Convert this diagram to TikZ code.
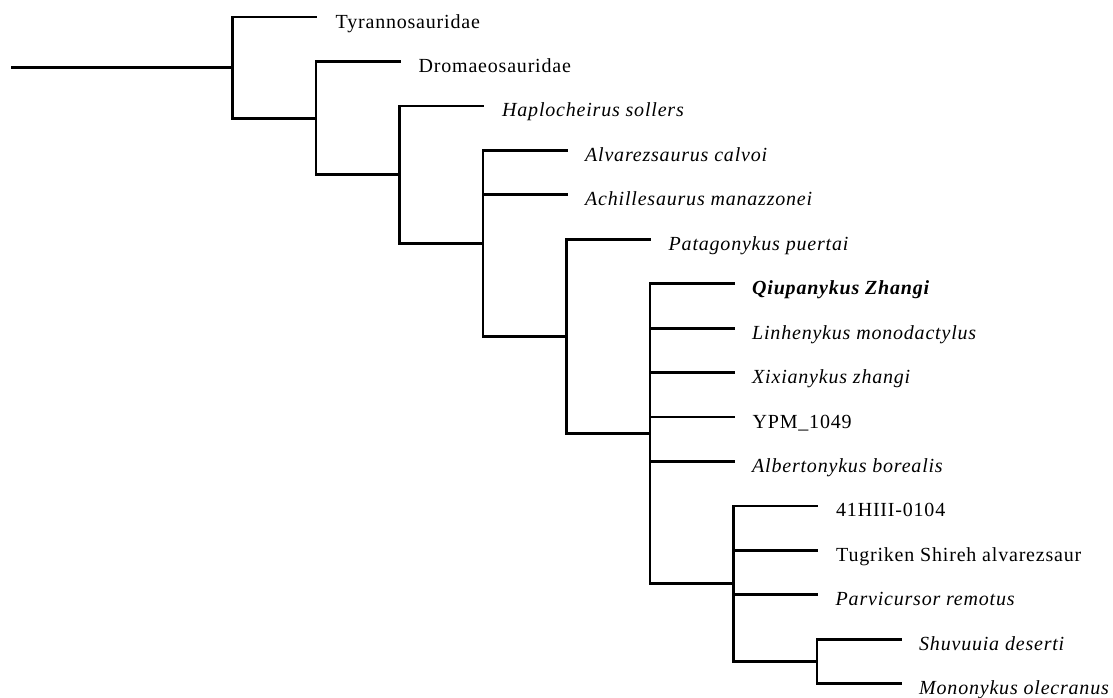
\documentclass[tikz,border=0pt]{standalone}
\usepackage{fontspec}
\setmainfont{Liberation Serif}[LetterSpace=4]
\begin{document}
\begin{tikzpicture}[x=1pt,y=-1pt,
  branch/.style={line width=2.8pt, line cap=butt, line join=miter},
  taxon/.style={anchor=base west, inner sep=0pt, font=\fontsize{20}{24}\selectfont},
  itaxon/.style={taxon, font=\fontsize{20}{24}\selectfont\itshape},
  btaxon/.style={taxon, font=\fontsize{20}{24}\selectfont\bfseries\itshape}]
\useasboundingbox (0,0) rectangle (1113,697);
% internal nodes
\coordinate (R) at (11,67.5);
\coordinate (A) at (232.5,67.5);
\coordinate (B) at (316,118.1);
\coordinate (C) at (399.5,174.7);
\coordinate (D) at (483,243.4);
\coordinate (E) at (566.5,336.5);
\coordinate (F) at (650,433.7);
\coordinate (G) at (733.5,583.7);
\coordinate (H) at (817,661.5);
% leaf ends
\coordinate (l0) at (317,17);
\coordinate (l1) at (400.5,61.45);
\coordinate (l2) at (484,105.9);
\coordinate (l3) at (567.5,150.35);
\coordinate (l4) at (567.5,194.8);
\coordinate (l5) at (651,239.25);
\coordinate (l6) at (734.5,283.7);
\coordinate (l7) at (734.5,328.15);
\coordinate (l8) at (734.5,372.6);
\coordinate (l9) at (734.5,417.05);
\coordinate (l10) at (734.5,461.5);
\coordinate (l11) at (818,505.95);
\coordinate (l12) at (818,550.4);
\coordinate (l13) at (818,594.85);
\coordinate (l14) at (901.5,639.3);
\coordinate (l15) at (901.5,683.75);
% labels
\node[taxon]  (t0)  at ([shift={(18.5,11)}]l0)  {Tyrannosauridae};
\node[taxon]  (t1)  at ([shift={(18,11)}]l1)  {Dromaeosauridae};
\node[itaxon] (t2)  at ([shift={(18,11)}]l2)  {Haplocheirus sollers};
\node[itaxon] (t3)  at ([shift={(17.5,11)}]l3)  {Alvarezsaurus calvoi};
\node[itaxon] (t4)  at ([shift={(17.5,11)}]l4)  {Achillesaurus manazzonei};
\node[itaxon] (t5)  at ([shift={(17.5,11)}]l5)  {Patagonykus puertai};
\node[btaxon] (t6)  at ([shift={(17.5,11)}]l6)  {Qiupanykus Zhangi};
\node[itaxon] (t7)  at ([shift={(17.5,11)}]l7)  {Linhenykus monodactylus};
\node[itaxon] (t8)  at ([shift={(17.5,11)}]l8)  {Xixianykus zhangi};
\node[taxon]  (t9)  at ([shift={(18,11)}]l9)  {YPM\_1049};
\node[itaxon] (t10) at ([shift={(17.5,11)}]l10) {Albertonykus borealis};
\node[taxon]  (t11) at ([shift={(18,11)}]l11) {41HIII-0104};
\node[taxon]  (t12) at ([shift={(18,11)}]l12) {Tugriken Shireh alvarezsaur};
\node[itaxon] (t13) at ([shift={(17.5,11)}]l13) {Parvicursor remotus};
\node[itaxon] (t14) at ([shift={(17.5,11)}]l14) {Shuvuuia deserti};
\node[itaxon] (t15) at ([shift={(17.5,11)}]l15) {Mononykus olecranus};
% branches
\draw[branch] (R) -- (A);
\draw[branch] (A) |- (l0);
\draw[branch] (A) |- (B);
\draw[branch] (B) |- (l1);
\draw[branch] (B) |- (C);
\draw[branch] (C) |- (l2);
\draw[branch] (C) |- (D);
\draw[branch] (D) |- (l3);
\draw[branch] (D) |- (l4);
\draw[branch] (D) |- (E);
\draw[branch] (E) |- (l5);
\draw[branch] (E) |- (F);
\draw[branch] (F) |- (l6);
\draw[branch] (F) |- (l7);
\draw[branch] (F) |- (l8);
\draw[branch] (F) |- (l9);
\draw[branch] (F) |- (l10);
\draw[branch] (F) |- (G);
\draw[branch] (G) |- (l11);
\draw[branch] (G) |- (l12);
\draw[branch] (G) |- (l13);
\draw[branch] (G) |- (H);
\draw[branch] (H) |- (l14);
\draw[branch] (H) |- (l15);
\end{tikzpicture}
\end{document}
